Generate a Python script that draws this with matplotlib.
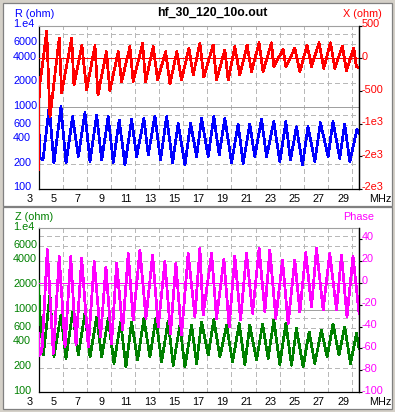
import matplotlib
matplotlib.use("Agg")
import matplotlib.pyplot as plt
from matplotlib import transforms
from matplotlib.patches import Rectangle
from matplotlib.ticker import FixedLocator, NullLocator

# --- data ----------------------------------------------------------------
# top panel: R (left, log) and X (right, linear)
freq_r = [3.00, 3.08, 3.37, 3.89, 4.28, 4.86, 5.28, 5.83, 6.30, 6.85, 7.27, 7.82,
          8.24, 8.78, 9.20, 9.69, 10.17, 10.72, 11.14, 11.74, 12.10, 12.65, 13.12,
          13.62, 14.12, 14.58, 15.14, 15.61, 16.11, 16.52, 17.07, 17.54, 17.98,
          18.45, 19.01, 19.55, 19.97, 20.52, 20.93, 21.49, 21.91, 22.51, 23.01,
          23.51, 23.89, 24.39, 24.89, 25.35, 25.91, 26.38, 27.01, 27.42, 27.98,
          28.39, 28.81, 29.41, 29.58]
r_ohm = [1679, 240, 226, 1019, 208, 1019, 208, 768, 249, 860, 216, 806,
         226, 768, 210, 700, 197, 714, 249, 734, 261, 783, 226,
         768, 210, 638, 197, 638, 249, 734, 249, 768, 261,
         734, 210, 625, 206, 625, 249, 714, 249, 667, 216,
         667, 226, 579, 197, 579, 216, 649, 249, 667, 238,
         625, 216, 538, 485]

freq_x = [3.00, 3.06, 3.29, 3.68, 3.95, 4.72, 4.92, 5.75, 5.94, 6.60, 6.99, 7.68,
          7.93, 8.63, 8.92, 9.61, 9.89, 10.58, 10.85, 11.63, 11.88, 12.51, 12.88,
          13.54, 13.90, 14.47, 14.86, 15.47, 15.83, 16.38, 16.71, 17.48, 17.76,
          18.45, 18.73, 19.28, 19.69, 20.30, 20.66, 21.29, 21.62, 22.32, 22.51,
          23.28, 23.51, 24.25, 24.67, 25.27, 25.64, 26.26, 26.65, 27.21, 27.57,
          28.20, 28.53, 29.14, 29.36, 29.58]
x_ohm = [-1709, -454, -148, 419, -898, 312, -530, 312, -408, 194, -484, 194,
         -561, 102, -495, 102, -357, 178, -357, 231, -357, 178, -331,
         102, -393, 102, -331, 154, -255, 231, -285, 205, -331,
         128, -331, 178, -255, 205, -204, 240, -204, 240, -128,
         139, -128, 154, -204, 205, -128, 240, -152, 240, -152,
         189, -189, 154, -128, -148]

# bottom panel: Z (left, log) and phase (right, linear)
freq_z = [3.00, 3.12, 3.40, 3.95, 4.28, 4.86, 5.28, 5.83, 6.30, 6.85, 7.27, 7.82,
          8.24, 8.78, 9.26, 9.81, 10.25, 10.72, 11.22, 11.74, 12.24, 12.73, 13.21,
          13.75, 14.17, 14.72, 15.14, 15.69, 16.11, 16.52, 17.07, 17.54, 18.04,
          18.59, 19.09, 19.64, 20.11, 20.52, 21.08, 21.58, 22.04, 22.51, 23.01,
          23.51, 23.98, 24.39, 24.94, 25.44, 25.91, 26.46, 26.93, 27.42, 27.92,
          28.39, 28.87, 29.36, 29.58]
z_ohm = [2213, 900, 283, 1524, 269, 869, 258, 954, 283, 911, 269, 828,
         269, 792, 224, 720, 203, 720, 246, 792, 269, 792, 234,
         740, 213, 656, 203, 656, 224, 720, 283, 770, 269,
         656, 234, 688, 219, 656, 246, 675, 258, 755, 219,
         688, 213, 598, 203, 544, 224, 570, 269, 675, 283,
         626, 224, 520, 341]

freq_ph = [3.00, 3.08, 3.29, 3.73, 4.23, 4.72, 5.20, 5.67, 6.11, 6.58, 7.13, 7.62,
           8.15, 8.59, 9.06, 9.48, 9.98, 10.44, 10.85, 11.41, 11.91, 12.46, 12.93,
           13.48, 13.95, 14.39, 14.86, 15.41, 15.97, 16.38, 16.65, 17.35, 17.76,
           18.37, 18.81, 19.28, 19.75, 20.25, 20.75, 21.29, 21.77, 22.18, 22.68,
           23.23, 23.70, 24.25, 24.67, 25.16, 25.64, 26.05, 26.60, 27.15, 27.71,
           28.12, 28.58, 29.08, 29.58]
phase_deg = [-46.3, -66.2, -61.6, 30.5, -64.6, 23.8, -58.6, 23.8, -57.0, 22.3, -58.6, 19.2,
             -49.4, 14.6, -55.5, 17.7, -43.3, 26.9, -34.1, 29.9, -32.6, 25.3, -40.3,
             19.2, -46.3, 17.7, -47.9, 26.9, -31.1, 31.4, -29.6, 26.9, -32.6,
             21.4, -40.3, 24.4, -34.1, 26.9, -28.0, 31.4, -26.6, 29.9, -32.6,
             20.7, -37.2, 20.7, -26.6, 27.4, -22.0, 31.4, -25.0, 26.9, -25.0,
             25.3, -31.1, 24.4, -28.0]

mhz_ticks = [3, 5, 7, 9, 11, 13, 15, 17, 19, 21, 23, 25, 27, 29]
ohm_ticks = [10000, 6000, 4000, 2000, 1000, 600, 400, 200, 100]
ohm_labels = ["1.e4", "6000", "4000", "2000", "1000", "600", "400", "200", "100"]
ohm_grid = [200, 400, 600, 800, 2000, 4000, 6000, 8000]
x_ticks = [500, 0, -500, -1000, -1500, -2000]
x_labels = ["500", "0", "-500", "-1e3", "-2e3", "-2e3"]
ph_ticks = [40, 20, 0, -20, -40, -60, -80, -100]
ph_labels = ["40", "20", "0", "-20", "-40", "-60", "-80", "-100"]

# --- layout (pixels) -------------------------------------------------------
W, H = 395, 412
X0, X1 = 38.5, 359.3
BG = "#d4d0c8"
FS = 7.8

plt.rcParams["font.family"] = ["Liberation Sans", "DejaVu Sans"]
plt.rcParams["lines.scale_dashes"] = False


def shift(fig, dx, dy):
    return transforms.ScaledTranslation(dx / 100, dy / 100, fig.dpi_scale_trans)


def draw_panel(fig, top, bottom, fl, vl, col_l, fr, vr, col_r,
               name_l, name_r, r_lim, r_ticks, r_labels):
    ax = fig.add_axes([X0 / W, 1 - bottom / H, (X1 - X0) / W, (bottom - top) / H])
    ax.set_facecolor("white")
    ax.set_yscale("log")
    ax.set_xlim(3, 29.6)
    ax.set_ylim(100, 10000)
    ax.xaxis.set_major_locator(FixedLocator(mhz_ticks[1:]))
    ax.yaxis.set_major_locator(FixedLocator(ohm_grid))
    ax.yaxis.set_minor_locator(NullLocator())
    ax.grid(True, color="#b8b8b8", lw=0.7, ls=(0, (3, 2.2)), antialiased=False)
    ax.set_axisbelow(True)
    ax.axhline(1000, color="#a0a0a0", lw=0.7, zorder=1, antialiased=False)
    ax.tick_params(length=0, labelleft=False, labelbottom=False)
    for side in ["left", "bottom", "right"]:
        ax.spines[side].set_color("black")
        ax.spines[side].set_linewidth(0.9)
    ax.spines["top"].set_color("#a0a0a0")
    ax.spines["top"].set_linewidth(0.8)
    ax.plot(fl, vl, color=col_l, lw=1.25, zorder=3, antialiased=False)

    ax2 = ax.twinx()
    ax2.set_ylim(*r_lim)
    ax2.set_yticks(r_ticks)
    ax2.tick_params(axis="y", length=2.5, width=0.8, direction="out",
                    labelright=False, color="black")
    for side in ["left", "bottom", "top"]:
        ax2.spines[side].set_visible(False)
    ax2.spines["right"].set_color("black")
    ax2.spines["right"].set_linewidth(0.9)
    ax2.axhline(0, color=col_r, lw=0.7, antialiased=False)
    ax2.plot(fr, vr, color=col_r, lw=1.25, antialiased=False)

    # tick labels
    tl = transforms.blended_transform_factory(fig.transFigure, ax.transData)
    for v, s in zip(ohm_ticks, ohm_labels):
        ax.text(13 / W, v, s, transform=tl + shift(fig, 0, 1.5), color=col_l,
                fontsize=FS, ha="left", va="center")
    tr = transforms.blended_transform_factory(fig.transFigure, ax2.transData)
    for v, s in zip(r_ticks, r_labels):
        ax2.text(361.5 / W, v, s, transform=tr + shift(fig, 0, 1.5), color=col_r,
                 fontsize=FS, ha="left", va="center")
    tb = transforms.blended_transform_factory(ax.transData, ax.transAxes)
    for v in mhz_ticks:
        ax.text(v, 0, str(v), transform=tb + shift(fig, -9, -10), color="black",
                fontsize=FS, ha="center", va="center")
    fig.text(380 / W, 1 - (bottom + 10) / H, "MHz", fontsize=FS,
             ha="center", va="center")

    fig.text(15 / W, 1 - (top - 11.5) / H, name_l, color=col_l, fontsize=FS,
             ha="left", va="center")
    fig.text(343 / W, 1 - (top - 11.5) / H, name_r, color=col_r, fontsize=FS,
             ha="left", va="center")
    return ax, ax2


fig = plt.figure(figsize=(W / 100, H / 100), dpi=100, facecolor=BG)
for y0, h in [(3, 203), (207, 202)]:
    fig.patches.append(Rectangle((3 / W, 1 - (y0 + h) / H), 389 / W, h / H,
                                 transform=fig.transFigure, facecolor="white",
                                 edgecolor="#808080", lw=0.9, zorder=-5))

draw_panel(fig, 25.7, 189, freq_r, r_ohm, "#0000ff", freq_x, x_ohm, "#ff0000",
           "R (ohm)", "X (ohm)", (-2000, 500), x_ticks, x_labels)
draw_panel(fig, 228, 392.3, freq_z, z_ohm, "#008000", freq_ph, phase_deg, "#ff00ff",
           "Z (ohm)", "Phase", (-100, 50), ph_ticks, ph_labels)

fig.text(212 / W, 1 - 13 / H, "hf_30_120_10o.out", fontsize=8.8,
         fontweight="bold", ha="center", va="center")

fig.savefig("out.png", dpi=100, facecolor=BG)
plt.close(fig)
